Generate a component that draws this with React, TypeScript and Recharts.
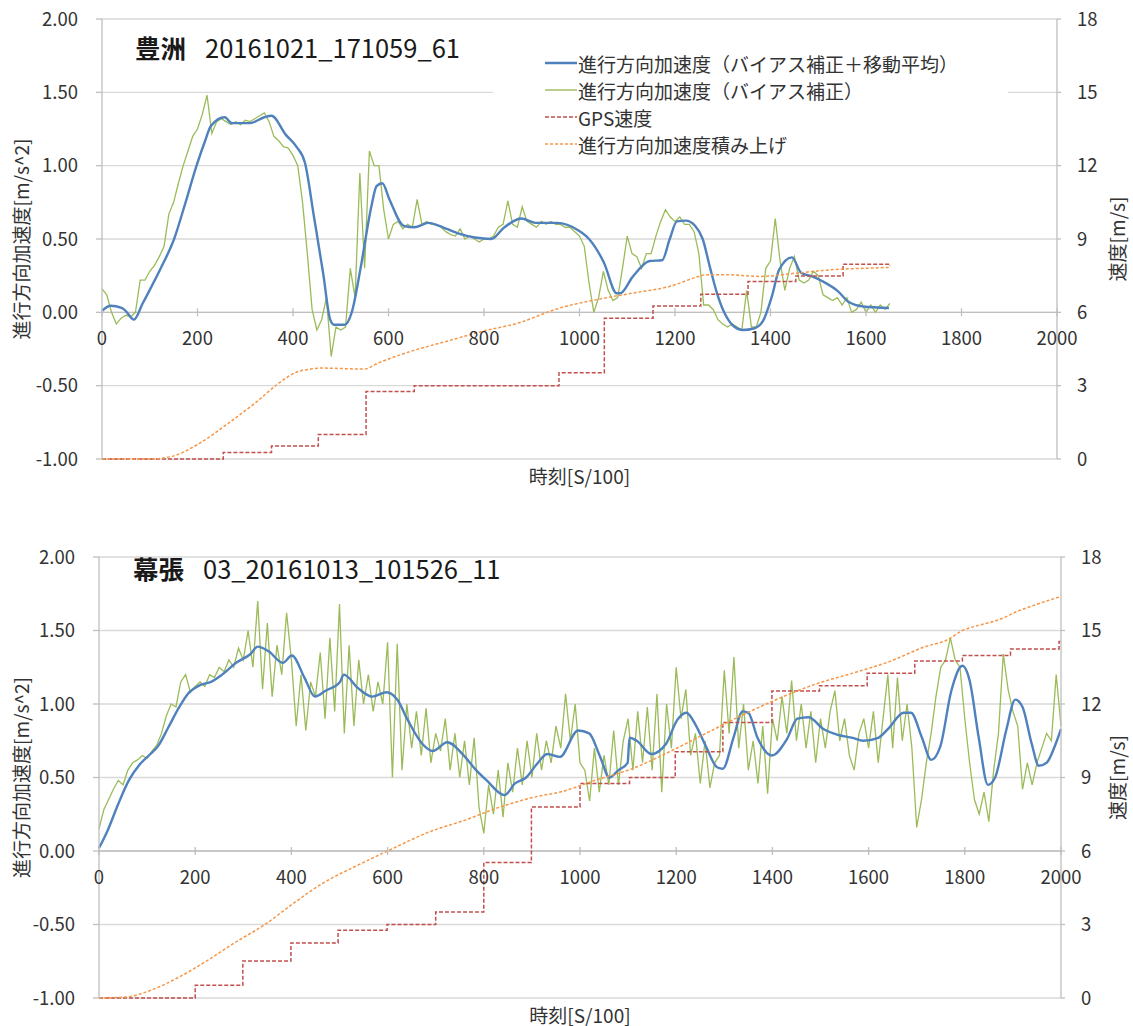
import React from 'react'
import { ComposedChart, Line, XAxis, YAxis, CartesianGrid, ReferenceLine, Legend } from 'recharts'

const FONT = '"Noto Sans CJK JP", "Noto Sans", sans-serif'
const TXT = '#333333'
const GRID = '#d9d9d9'
const AXIS = '#bfbfbf'
const BLUE = '#4f81bd'
const GREEN = '#9bbb59'
const RED = '#c0504d'
const ORANGE = '#f79646'

const ACC_MIN = -1
const ACC_MAX = 2
const ACC_TICKS = [-1, -0.5, 0, 0.5, 1, 1.5, 2]
const SPD_TICKS = [0, 3, 6, 9, 12, 15, 18]
const TIME_TICKS = [0, 200, 400, 600, 800, 1000, 1200, 1400, 1600, 1800, 2000]

const NAME_BLUE = '進行方向加速度（バイアス補正＋移動平均）'
const NAME_GREEN = '進行方向加速度（バイアス補正）'
const NAME_RED = 'GPS速度'
const NAME_ORANGE = '進行方向加速度積み上げ'

// raw acceleration is read every 10 time units
const STEP = 10

// ---- 豊洲 20161021_171059_61 ----
const toyosuRaw = [
  0.16, 0.12, 0.0, -0.08, -0.04, -0.02, -0.03, 0.0, 0.22, 0.22,
  0.28, 0.32, 0.38, 0.45, 0.67, 0.75, 0.88, 1.0, 1.1, 1.2,
  1.25, 1.35, 1.48, 1.22, 1.3, 1.32, 1.3, 1.28, 1.3, 1.28,
  1.31, 1.3, 1.32, 1.34, 1.36, 1.3, 1.2, 1.17, 1.13, 1.12,
  1.07, 1.0, 0.75, 0.4, 0.02, -0.12, -0.05, 0.1, -0.3, -0.1,
  -0.12, -0.1, 0.3, 0.1, 0.95, 0.3, 1.1, 1.0, 1.0, 0.7,
  0.5, 0.6, 0.62, 0.57, 0.6, 0.58, 0.77, 0.6, 0.62, 0.6,
  0.6, 0.58, 0.55, 0.53, 0.52, 0.57, 0.5, 0.52, 0.5, 0.48,
  0.5, 0.5, 0.52, 0.58, 0.6, 0.76, 0.6, 0.58, 0.72, 0.62,
  0.6, 0.58, 0.62, 0.6, 0.62, 0.6, 0.6, 0.58, 0.58, 0.55,
  0.52, 0.45, 0.2, 0.0, 0.1, 0.28, 0.15, 0.08, 0.1, 0.3,
  0.52, 0.4, 0.38, 0.3, 0.4, 0.4, 0.52, 0.62, 0.7, 0.65,
  0.62, 0.65, 0.6, 0.6, 0.55, 0.4, 0.05, 0.05, 0.02, -0.05,
  -0.08, -0.1, -0.08, -0.1, -0.12, 0.15, -0.1, -0.1, 0.0, 0.3,
  0.35, 0.64, 0.35, 0.15, 0.3, 0.38, 0.22, 0.2, 0.22, 0.28,
  0.25, 0.12, 0.1, 0.08, 0.1, 0.05, 0.1, 0.0, 0.02, 0.07,
  0.0, 0.05, 0.0, 0.05, 0.02, 0.06,
]
const toyosuAvgT = [
  0, 18, 41, 48, 67, 85, 123, 151, 175, 198, 216, 228, 257, 272, 310, 340, 355, 385, 407, 425,
  444, 463, 478, 486, 508, 523, 542, 564, 575, 587, 602, 632, 654, 684, 706, 744, 781, 815, 841, 878,
  908, 953, 997, 1020, 1051, 1078, 1085, 1112, 1147, 1173, 1189, 1204, 1223, 1242, 1258, 1273, 1288, 1303, 1323, 1342,
  1365, 1384, 1403, 1418, 1445, 1464, 1487, 1510, 1541, 1564, 1594, 1648,
]
const toyosuAvg = [
  0.01, 0.045, 0.03, 0.015, -0.05, 0.06, 0.3, 0.5, 0.75, 1.0, 1.17, 1.27, 1.33, 1.29, 1.29, 1.33, 1.34, 1.21, 1.13, 1.02,
  0.65, 0.27, -0.05, -0.085, -0.085, 0, 0.31, 0.72, 0.86, 0.88, 0.77, 0.59, 0.58, 0.61, 0.59, 0.54, 0.51, 0.5, 0.575, 0.64,
  0.61, 0.61, 0.56, 0.5, 0.34, 0.13, 0.13, 0.245, 0.35, 0.355, 0.5, 0.62, 0.625, 0.59, 0.5, 0.31, 0.13, 0, -0.095, -0.12,
  -0.11, -0.06, 0.11, 0.29, 0.375, 0.27, 0.245, 0.21, 0.145, 0.07, 0.04, 0.03,
]
const toyosuGpsT = [0, 254, 355, 453, 553, 654, 957, 1052, 1154, 1254, 1353, 1453, 1552, 1650]
const toyosuGps = [0, 0.27, 0.53, 1.0, 2.76, 3.0, 3.53, 5.76, 6.26, 6.74, 7.26, 7.49, 7.97, 7.9]
const toyosuIntT = [
  0, 100, 145, 205, 265, 325, 370, 407, 437, 459, 549, 579, 646, 721, 796, 871, 959, 1036, 1112, 1189,
  1250, 1265, 1303, 1380, 1457, 1533, 1610, 1652,
]
const toyosuInt = [
  0, 0, 0.1, 0.65, 1.47, 2.36, 3.1, 3.55, 3.68, 3.72, 3.68, 3.93, 4.4, 4.81, 5.22, 5.56, 6.18, 6.52, 6.79, 7.06,
  7.47, 7.54, 7.54, 7.47, 7.61, 7.75, 7.81, 7.84,
]

// ---- 幕張 03_20161013_101526_11 ----
const makuhariRaw = [
  0.15, 0.28, 0.35, 0.42, 0.48, 0.45, 0.55, 0.6, 0.62, 0.65,
  0.63, 0.68, 0.72, 0.8, 0.92, 1.0, 0.98, 1.15, 1.2, 1.08,
  1.12, 1.15, 1.12, 1.2, 1.18, 1.25, 1.22, 1.3, 1.25, 1.38,
  1.3, 1.5, 1.25, 1.7, 1.1, 1.55, 1.05, 1.4, 1.2, 1.62,
  1.3, 0.85, 1.2, 0.82, 1.15, 1.05, 1.35, 0.9, 1.45, 0.95,
  1.68, 0.8, 1.4, 0.85, 1.3, 1.0, 1.2, 0.95, 1.15, 1.0,
  1.42, 0.5, 1.41, 0.55, 1.0, 0.7, 0.95, 0.65, 0.97, 0.6,
  0.8, 0.68, 0.9, 0.55, 0.8, 0.5, 0.75, 0.45, 0.77, 0.3,
  0.12, 0.45, 0.25, 0.55, 0.23, 0.6, 0.4, 0.7, 0.45, 0.75,
  0.5, 0.8, 0.55, 0.75, 0.6, 0.85, 0.7, 1.07, 0.75, 1.0,
  0.6, 0.55, 0.34, 0.7, 0.4, 0.65, 0.45, 0.82, 0.45, 0.75,
  0.9, 0.55, 0.95, 0.6, 0.98, 0.55, 1.07, 0.4, 1.0, 0.7,
  1.25, 0.9, 1.1, 0.65, 0.8, 0.46, 0.75, 0.43, 0.6, 0.65,
  1.23, 0.8, 1.32, 0.7, 1.0, 0.55, 0.75, 0.46, 0.85, 0.39,
  0.9, 0.75, 1.05, 0.8, 1.16, 0.75, 1.0, 0.7, 0.95, 0.6,
  0.9, 0.7, 0.95, 1.09, 0.75, 0.9, 0.65, 0.55, 0.8, 0.9,
  0.7, 0.95, 0.6, 0.9, 1.2, 0.7, 1.18, 0.75, 1.0, 0.7,
  0.16, 0.35, 0.6, 0.8, 1.05, 1.25, 1.3, 1.45, 1.3, 1.25,
  0.9, 0.6, 0.35, 0.25, 0.4, 0.2, 0.55, 0.8, 1.34, 1.1,
  0.95, 0.85, 0.42, 0.6, 0.45, 0.6, 0.7, 0.8, 0.75, 1.2,
  0.85,
]
const makuhariAvgT = [
  0, 18, 40, 62, 85, 107, 122, 144, 167, 185, 211, 233, 256, 285, 315, 330, 352, 382, 401, 427,
  449, 471, 501, 509, 538, 568, 598, 620, 642, 672, 694, 724, 761, 784, 806, 843, 865, 888, 910, 932,
  958, 996, 1019, 1042, 1061, 1080, 1099, 1103, 1118, 1148, 1179, 1202, 1221, 1240, 1262, 1285, 1297, 1319, 1338, 1350,
  1369, 1399, 1430, 1452, 1475, 1506, 1536, 1567, 1589, 1620, 1643, 1673, 1688, 1711, 1730, 1749, 1772, 1795, 1810, 1829,
  1848, 1863, 1886, 1905, 1920, 1939, 1954, 1970, 1989, 2000,
]
const makuhariAvg = [
  0.02, 0.14, 0.32, 0.48, 0.59, 0.66, 0.71, 0.84, 0.98, 1.07, 1.13, 1.15, 1.2, 1.28, 1.34, 1.39, 1.36, 1.28, 1.33, 1.18,
  1.05, 1.09, 1.15, 1.2, 1.11, 1.05, 1.08, 1.03, 0.89, 0.73, 0.68, 0.74, 0.64, 0.55, 0.48, 0.38, 0.46, 0.5, 0.59, 0.66,
  0.64, 0.82, 0.8, 0.64, 0.5, 0.55, 0.6, 0.77, 0.75, 0.66, 0.73, 0.89, 0.94, 0.86, 0.71, 0.57, 0.56, 0.77, 0.95, 0.94,
  0.77, 0.65, 0.76, 0.9, 0.91, 0.83, 0.79, 0.77, 0.75, 0.77, 0.84, 0.94, 0.94, 0.77, 0.62, 0.71, 1.09, 1.26, 1.16, 0.77,
  0.45, 0.5, 0.82, 1.03, 0.98, 0.73, 0.58, 0.6, 0.73, 0.83,
]
const makuhariGpsT = [0, 200, 299, 399, 497, 599, 700, 800, 899, 1000, 1103, 1198, 1297, 1399, 1498, 1597, 1696, 1795, 1895, 1996, 2000]
const makuhariGps = [0, 0.52, 1.51, 2.25, 2.77, 3.0, 3.51, 5.53, 7.8, 8.76, 9.0, 10.05, 11.25, 12.53, 12.75, 13.26, 13.76, 13.98, 14.25, 14.55, 14.55]
const makuhariIntT = [
  0, 55, 107, 167, 226, 285, 345, 404, 464, 538, 601, 687, 761, 836, 910, 961, 1034, 1110, 1186, 1262,
  1338, 1414, 1491, 1567, 1643, 1719, 1764, 1795, 1833, 1871, 1909, 1947, 2000,
]
const makuhariInt = [
  0, 0.04, 0.31, 0.86, 1.54, 2.29, 3.0, 3.86, 4.67, 5.42, 6.01, 6.78, 7.26, 7.81, 8.22, 8.42, 8.9, 9.37, 10.05, 10.8,
  11.55, 12.23, 12.82, 13.26, 13.73, 14.35, 14.62, 15.0, 15.23, 15.44, 15.78, 16.05, 16.39,
]

const pairs = (t: number[], v: number[]) => t.map((x, i) => ({ t: x, v: v[i] }))
const sampled = (v: number[]) => v.map((y, i) => ({ t: i * STEP, v: y }))

const LEGEND_ROWS = [
  { name: NAME_BLUE, color: BLUE, w: 2.5, dash: undefined as string | undefined },
  { name: NAME_GREEN, color: GREEN, w: 1.4, dash: undefined },
  { name: NAME_RED, color: RED, w: 1.5, dash: '4 2' },
  { name: NAME_ORANGE, color: ORANGE, w: 1.5, dash: '3 2' },
]

function LegendBox() {
  return (
    <svg width={515} height={112} style={{ display: 'block', background: '#fff' }}>
      {LEGEND_ROWS.map((r, i) => {
        const cy = 15 + i * 27
        return (
          <g key={r.name}>
            <line x1={52} x2={84} y1={cy} y2={cy} stroke={r.color} strokeWidth={r.w} strokeDasharray={r.dash} />
            <text x={85} y={cy} dominantBaseline="central" fontSize={19} fill={TXT} fontFamily={FONT}>
              {r.name}
            </text>
          </g>
        )
      })}
    </svg>
  )
}

// time labels sit on the acceleration zero line, not at the bottom
function ZeroTick(props: any) {
  const { x, y, payload, plotH } = props
  const zy = y - (plotH * (0 - ACC_MIN)) / (ACC_MAX - ACC_MIN)
  return (
    <g>
      <line x1={x} x2={x} y1={zy - 4} y2={zy + 4} stroke={AXIS} strokeWidth={1.3} />
      <text x={x} y={zy + 25} textAnchor="middle" dominantBaseline="central" fill={TXT} fontSize={18.5} fontFamily={FONT}>
        {payload.value}
      </text>
    </g>
  )
}

function VTitle(props: any) {
  const { viewBox, text, cx } = props
  const cy = viewBox.y + viewBox.height / 2
  return (
    <text x={cx} y={cy} transform={`rotate(-90 ${cx} ${cy})`} textAnchor="middle" dominantBaseline="central"
      fontSize={19} fill={TXT} fontFamily={FONT}>
      {text}
    </text>
  )
}

function HTitle(props: any) {
  const { viewBox } = props
  return (
    <text x={viewBox.x + viewBox.width / 2} y={viewBox.y + 16} textAnchor="middle" dominantBaseline="central"
      fontSize={19} fill={TXT} fontFamily={FONT}>
      時刻[S/100]
    </text>
  )
}

interface PanelProps {
  top: number
  height: number
  marginTop: number
  xAxisH: number
  leftW: number
  rightW: number
  place: string
  code: string
  titleTop: number
  titleLeft: number
  raw: number[]
  avgT: number[]
  avg: number[]
  gpsT: number[]
  gps: number[]
  intT: number[]
  integ: number[]
  legend?: boolean
}

function Panel(p: PanelProps) {
  const plotH = p.height - p.marginTop - p.xAxisH
  const tickStyle = { fill: TXT, fontSize: 18.5, fontFamily: FONT }
  return (
    <div style={{ position: 'absolute', left: 0, top: p.top, width: 1133, height: p.height }}>
      <ComposedChart width={1133} height={p.height} margin={{ top: p.marginTop, right: 8, bottom: 0, left: 0 }}>
        <CartesianGrid yAxisId="acc" vertical={false} stroke={GRID} strokeWidth={1.3} />
        <XAxis dataKey="t" type="number" domain={[0, 2000]} ticks={TIME_TICKS} interval={0}
          height={p.xAxisH} axisLine={false} tickLine={false} tickSize={0} tickMargin={0}
          tick={(tp: any) => <ZeroTick {...tp} plotH={plotH} />}
          label={<HTitle />} />
        <YAxis yAxisId="acc" domain={[ACC_MIN, ACC_MAX]} ticks={ACC_TICKS} interval={0} width={p.leftW}
          tickFormatter={(v: number) => v.toFixed(2)} tick={tickStyle}
          axisLine={{ stroke: AXIS, strokeWidth: 1.3 }} tickLine={{ stroke: AXIS, strokeWidth: 1.3 }}
          tickSize={6} tickMargin={18}
          label={<VTitle text="進行方向加速度[m/s^2]" cx={20} />} />
        <YAxis yAxisId="spd" orientation="right" domain={[0, 18]} ticks={SPD_TICKS} interval={0} width={p.rightW}
          tick={tickStyle} axisLine={{ stroke: AXIS, strokeWidth: 1.3 }} tickLine={{ stroke: AXIS, strokeWidth: 1.3 }}
          tickSize={4} tickMargin={16}
          label={<VTitle text="速度[m/s]" cx={1116} />} />
        <ReferenceLine yAxisId="acc" y={0} stroke={AXIS} strokeWidth={1.3} />
        <Line yAxisId="acc" data={sampled(p.raw)} dataKey="v" name={NAME_GREEN} type="linear" stroke={GREEN}
          strokeWidth={1.3} dot={false} activeDot={false} isAnimationActive={false} />
        <Line yAxisId="acc" data={pairs(p.avgT, p.avg)} dataKey="v" name={NAME_BLUE} type="monotone" stroke={BLUE}
          strokeWidth={2.4} dot={false} activeDot={false} isAnimationActive={false} />
        <Line yAxisId="spd" data={pairs(p.gpsT, p.gps)} dataKey="v" name={NAME_RED} type="stepAfter" stroke={RED}
          strokeWidth={1.5} strokeDasharray="4 2" dot={false} activeDot={false} isAnimationActive={false} />
        <Line yAxisId="spd" data={pairs(p.intT, p.integ)} dataKey="v" name={NAME_ORANGE} type="monotone" stroke={ORANGE}
          strokeWidth={1.5} strokeDasharray="3 2" dot={false} activeDot={false} isAnimationActive={false} />
        {p.legend && (
          <Legend layout="horizontal" verticalAlign="middle" align="center" content={<LegendBox />}
            wrapperStyle={{ left: 493, top: 48, width: 515, height: 112 }} />
        )}
      </ComposedChart>
      <div style={{ position: 'absolute', left: p.titleLeft, top: p.titleTop, fontSize: 25.5, lineHeight: '34px',
        color: '#1a1a1a', fontFamily: FONT, whiteSpace: 'pre' }}>
        <b>{p.place}</b>
        <span style={{ marginLeft: 19 }}>{p.code}</span>
      </div>
    </div>
  )
}

export default function App() {
  return (
    <div style={{ position: 'relative', width: 1133, height: 1026, background: '#fff', overflow: 'hidden' }}>
      <style>{'body{margin:0;overflow:hidden}'}</style>
      <Panel top={0} height={490} marginTop={19} xAxisH={31} leftW={102} rightW={68}
        place="豊洲" code="20161021_171059_61" titleTop={30} titleLeft={135}
        raw={toyosuRaw} avgT={toyosuAvgT} avg={toyosuAvg} gpsT={toyosuGpsT} gps={toyosuGps}
        intT={toyosuIntT} integ={toyosuInt} legend />
      <Panel top={500} height={526} marginTop={57} xAxisH={28} leftW={99} rightW={64}
        place="幕張" code="03_20161013_101526_11" titleTop={51} titleLeft={133}
        raw={makuhariRaw} avgT={makuhariAvgT} avg={makuhariAvg} gpsT={makuhariGpsT} gps={makuhariGps}
        intT={makuhariIntT} integ={makuhariInt} />
    </div>
  )
}
